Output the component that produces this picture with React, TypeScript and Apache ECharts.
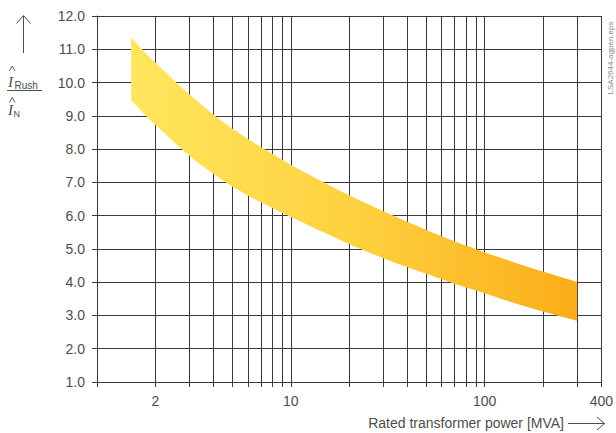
import React, { useEffect, useRef } from "react";
import * as echarts from "echarts";

// Rated transformer power [MVA] at which the band edges are sampled
const powerMVA = [1.5, 2, 3, 4, 5, 7, 10, 15, 20, 30, 50, 70, 100, 150, 200, 300];
// Upper edge of the inrush band (I_Rush / I_N)
const upperRatio = [11.35, 10.6, 9.64, 9.03, 8.61, 8.06, 7.53, 6.98, 6.61, 6.13, 5.57, 5.23, 4.9, 4.55, 4.32, 4.01];
// Lower edge of the inrush band (I_Rush / I_N)
const lowerRatio = [9.47, 8.73, 7.8, 7.25, 6.87, 6.4, 5.96, 5.48, 5.15, 4.72, 4.25, 3.95, 3.67, 3.33, 3.12, 2.84];

// Log-axis grid positions and the values that carry labels
const xGridValues = [1, 2, 3, 4, 5, 6, 7, 8, 9, 10, 20, 30, 40, 50, 60, 70, 80, 90, 100, 200, 300, 400];
const xLabelValues = [2, 10, 100, 400];

const xAxisTitle = "Rated transformer power [MVA]";
const figureId = "LSA2644-agpen.eps";

const INK = "#3a3a3a";
const TEXT = "#4d4d4d";
const FONT = '"Liberation Sans", Arial, sans-serif';

export default function App() {
  const ref = useRef<HTMLDivElement>(null);

  useEffect(() => {
    if (!ref.current) return;
    const chart = echarts.init(ref.current, undefined, { renderer: "svg" });

    // Rows are [ratio, power] so that the ratio column is the one stacked.
    const lowerRows = powerMVA.map((p, i) => [lowerRatio[i], p]);
    const spanRows = powerMVA.map((p, i) => [+(upperRatio[i] - lowerRatio[i]).toFixed(3), p]);

    const hat = (y: number) => ({
      type: "polyline",
      shape: { points: [[9.3, y + 5], [12.2, y], [15.1, y + 5]] },
      style: { stroke: TEXT, lineWidth: 0.9, fill: null },
    });

    chart.setOption({
      animation: false,
      backgroundColor: "#ffffff",
      grid: { left: 97, right: 12, top: 16, bottom: 51, containLabel: false },
      xAxis: {
        type: "log",
        logBase: 10,
        min: 1,
        max: 400,
        axisLine: { show: true, lineStyle: { color: INK, width: 1 } },
        axisTick: {
          show: true,
          length: 5,
          customValues: xGridValues,
          lineStyle: { color: INK, width: 1 },
        },
        axisLabel: {
          customValues: xLabelValues,
          color: TEXT,
          fontSize: 14,
          fontFamily: FONT,
          margin: 12,
        },
        splitLine: { show: true, lineStyle: { color: INK, width: 1 } },
        minorTick: { show: false },
        minorSplitLine: { show: false },
      },
      yAxis: {
        type: "value",
        min: 1,
        max: 12,
        interval: 1,
        axisLine: { show: true, lineStyle: { color: INK, width: 1 } },
        axisTick: { show: true, length: 5, lineStyle: { color: INK, width: 1 } },
        axisLabel: {
          color: TEXT,
          fontSize: 14,
          fontFamily: FONT,
          margin: 12,
          formatter: (v: number) => v.toFixed(1),
        },
        splitLine: { show: true, lineStyle: { color: INK, width: 1 } },
      },
      series: [
        {
          name: "lower",
          type: "line",
          stack: "band",
          data: lowerRows,
          encode: { x: 1, y: 0 },
          smooth: 0.35,
          symbol: "none",
          lineStyle: { opacity: 0, width: 0 },
          areaStyle: { opacity: 0 },
          silent: true,
        },
        {
          name: "band",
          type: "line",
          stack: "band",
          data: spanRows,
          encode: { x: 1, y: 0 },
          smooth: 0.35,
          symbol: "none",
          lineStyle: { opacity: 0, width: 0 },
          areaStyle: {
            opacity: 1,
            color: new echarts.graphic.LinearGradient(0, 0, 1, 0, [
              { offset: 0, color: "#FFE65E" },
              { offset: 0.5, color: "#FED13F" },
              { offset: 1, color: "#FBAD19" },
            ]),
          },
          silent: true,
        },
      ],
      graphic: [
        // upward arrow above the y-axis title
        {
          type: "line",
          shape: { x1: 23.5, y1: 16, x2: 23.5, y2: 53 },
          style: { stroke: TEXT, lineWidth: 1 },
        },
        {
          type: "polyline",
          shape: { points: [[16.5, 23.5], [23.5, 15.5], [30.5, 23.5]] },
          style: { stroke: TEXT, lineWidth: 1, fill: null },
        },
        // y-axis title: I_Rush / I_N with peak hats
        hat(66),
        {
          type: "text",
          style: { text: "I", x: 8, y: 82, font: 'italic 15px "Liberation Serif", serif', fill: TEXT, verticalAlign: "middle" },
        },
        {
          type: "text",
          style: { text: "Rush", x: 14.5, y: 85.5, font: `10px ${FONT}`, fill: TEXT, verticalAlign: "middle" },
        },
        {
          type: "line",
          shape: { x1: 7, y1: 90.5, x2: 42, y2: 90.5 },
          style: { stroke: TEXT, lineWidth: 1 },
        },
        hat(97.5),
        {
          type: "text",
          style: { text: "I", x: 8, y: 110, font: 'italic 15px "Liberation Serif", serif', fill: TEXT, verticalAlign: "middle" },
        },
        {
          type: "text",
          style: { text: "N", x: 13.5, y: 113.5, font: `9px ${FONT}`, fill: TEXT, verticalAlign: "middle" },
        },
        // x-axis title with arrow
        {
          type: "text",
          style: { text: xAxisTitle, x: 564, y: 423, font: `14px ${FONT}`, fill: TEXT, align: "right", verticalAlign: "middle" },
        },
        {
          type: "line",
          shape: { x1: 568, y1: 423.5, x2: 604, y2: 423.5 },
          style: { stroke: TEXT, lineWidth: 1 },
        },
        {
          type: "polyline",
          shape: { points: [[597, 417], [604.5, 423.5], [597, 430]] },
          style: { stroke: TEXT, lineWidth: 1, fill: null },
        },
        // figure id along the right edge
        {
          type: "text",
          x: 610.5,
          y: 58,
          rotation: Math.PI / 2,
          style: { text: figureId, font: `8px ${FONT}`, fill: "#8a8a8a", align: "center", verticalAlign: "middle" },
        },
      ],
    });

    return () => chart.dispose();
  }, []);

  return (
    <div
      ref={ref}
      style={{ position: "fixed", left: 0, top: 0, width: 616, height: 433 }}
    />
  );
}
